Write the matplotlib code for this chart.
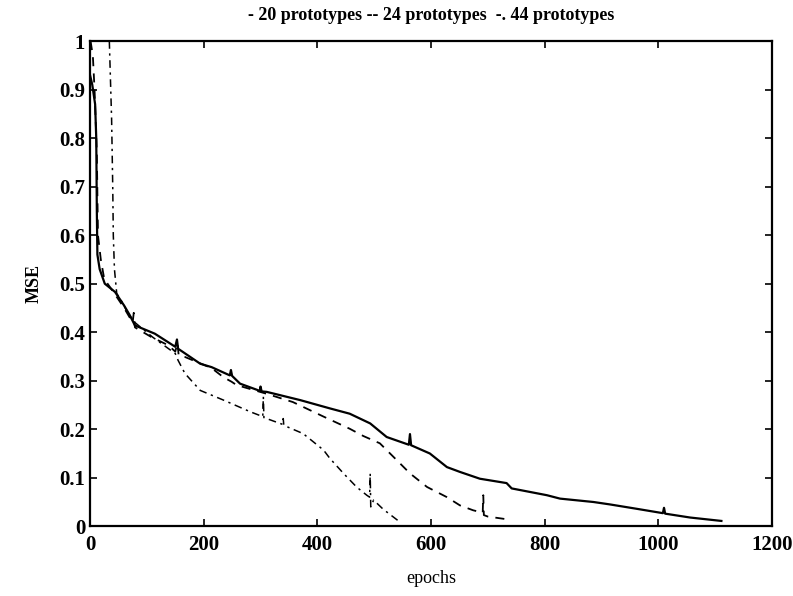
import matplotlib.pyplot as plt

# MSE per epoch for three network sizes
ep_20 = [0, 4, 9, 11, 12, 13, 17, 26, 44, 60, 70, 79, 114, 150, 153, 155, 194, 214, 246,
         248, 250, 264, 299, 300, 302, 311, 370, 422, 457, 493, 522, 561, 563, 565, 598,
         628, 651, 686, 733, 742, 804, 827, 886, 915, 962, 1008, 1010, 1012, 1056, 1111]
mse_20 = [0.93, 0.91, 0.87, 0.80, 0.65, 0.56, 0.53, 0.50, 0.483, 0.455, 0.435, 0.414,
          0.397, 0.370, 0.385, 0.366, 0.335, 0.328, 0.311, 0.322, 0.310, 0.294, 0.279,
          0.288, 0.278, 0.277, 0.260, 0.243, 0.232, 0.212, 0.184, 0.168, 0.190, 0.167,
          0.150, 0.122, 0.112, 0.098, 0.089, 0.078, 0.064, 0.057, 0.050, 0.045, 0.036,
          0.027, 0.038, 0.026, 0.018, 0.011]

ep_24 = [1, 5, 8, 12, 14, 19, 25, 44, 60, 75, 77, 79, 108, 138, 150, 154, 156, 167, 214,
         235, 249, 258, 311, 357, 411, 457, 481, 510, 540, 563, 593, 628, 651, 674, 691,
         692, 693, 700, 736]
mse_24 = [1.0, 0.97, 0.90, 0.77, 0.60, 0.55, 0.51, 0.478, 0.45, 0.42, 0.44, 0.41, 0.39,
          0.373, 0.36, 0.378, 0.352, 0.349, 0.326, 0.307, 0.298, 0.291, 0.273, 0.256,
          0.226, 0.201, 0.186, 0.171, 0.136, 0.109, 0.081, 0.060, 0.043, 0.033, 0.028,
          0.064, 0.023, 0.020, 0.014]

ep_44 = [34, 38, 40, 41, 43, 47, 55, 67, 79, 110, 150, 155, 167, 194, 235, 282, 304, 305,
         306, 339, 340, 341, 375, 411, 422, 446, 469, 487, 492, 493, 494, 499, 516, 545]
mse_44 = [1.0, 0.84, 0.70, 0.60, 0.53, 0.48, 0.465, 0.439, 0.42, 0.39, 0.356, 0.342,
          0.315, 0.28, 0.26, 0.236, 0.226, 0.267, 0.224, 0.210, 0.222, 0.208, 0.191,
          0.157, 0.140, 0.109, 0.081, 0.064, 0.060, 0.109, 0.040, 0.054, 0.035, 0.009]

plt.rcParams['font.family'] = ['Liberation Serif', 'DejaVu Serif']

fig = plt.figure(figsize=(7.93, 5.96), dpi=100)
ax = fig.add_axes([0.1135, 0.117, 0.86, 0.814])

ax.plot(ep_20, mse_20, '-', color='black', lw=1.6)
ax.plot(ep_24, mse_24, '--', color='black', lw=1.3, dashes=(5, 4))
ax.plot(ep_44, mse_44, '-.', color='black', lw=1.1, dashes=(5, 3, 1.5, 3))

ax.set_xlim(0, 1200)
ax.set_ylim(0, 1)
ax.set_xticks(range(0, 1201, 200))
ax.set_yticks([i / 10 for i in range(11)])
ax.set_yticklabels(['0', '0.1', '0.2', '0.3', '0.4', '0.5', '0.6', '0.7', '0.8', '0.9', '1'])
ax.tick_params(direction='in', top=True, right=True, length=5, width=1.2,
               labelsize=15)
ax.tick_params(axis='x', pad=6)
for lbl in ax.get_xticklabels() + ax.get_yticklabels():
    lbl.set_fontweight('bold')
for sp in ax.spines.values():
    sp.set_linewidth(1.6)

ax.set_title('- 20 prototypes -- 24 prototypes  -. 44 prototypes',
             fontsize=13, fontweight='bold', pad=15)
ax.set_ylabel('MSE', fontsize=13, fontweight='bold', labelpad=12)
ax.set_xlabel('epochs', fontsize=13, labelpad=11)

fig.savefig('out.png', dpi=100)
